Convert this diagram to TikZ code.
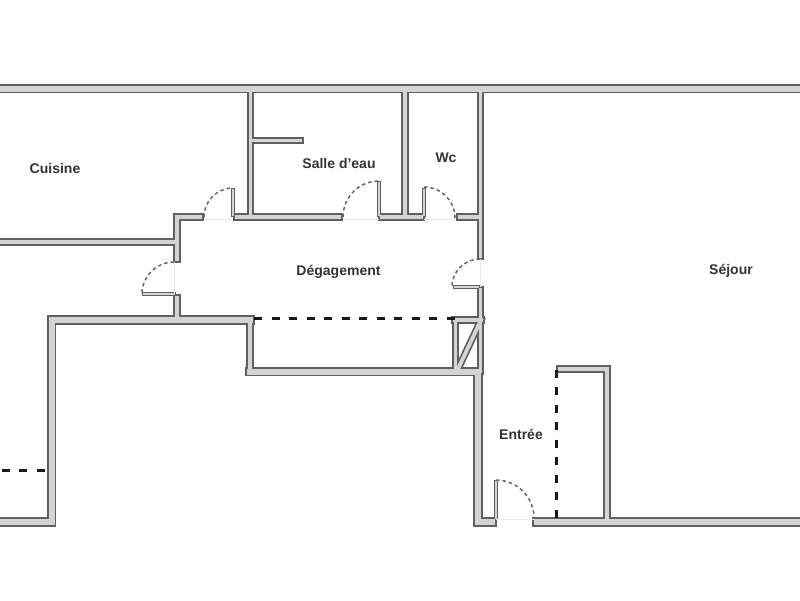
\documentclass[tikz,border=0pt]{standalone}
\usepackage{fontspec}
\setmainfont{Liberation Sans}[Ligatures=ResetAll]
\definecolor{wallline}{HTML}{606060}
\definecolor{wallfill}{HTML}{D4D4D4}
\tikzstyle{room} = [font=\fontsize{14}{16}\selectfont\bfseries, text=black!80, inner sep=0pt]
\tikzstyle{door} = [line width=1.5pt, color=black!60, dash pattern=on 3.5pt off 3pt]
\tikzstyle{sill} = [line width=0.6pt, color=black!8]
\tikzstyle{limit} = [line width=3pt, color=black!90, dash pattern=on 8pt off 9.5pt]
% all the walls, drawn once in dark and once in light
\newcommand{\planwalls}[4]{
      \begin{scope}[color=#4, line cap=rect, miter limit=4]
      %thick outer walls
      \draw[line width=#1] (-6,88.5)--(806,88.5);
      \draw[line width=#1] (-6,522)--(51.5,522)--(51.5,320)--(250,320);
      \draw[line width=#1] (250,371.5)--(478,371.5);
      \draw[line width=#1] (478,371.5)--(478,522)--(492,522);
      \draw[line width=#1] (537,522)--(806,522);
      %inner walls
      \draw[line width=#2] (250.5,88.5)--(250.5,217);
      \draw[line width=#2] (405,88.5)--(405,217);
      \draw[line width=#2] (480.5,88.5)--(480.5,256);
      \draw[line width=#2] (480.5,290)--(480.5,371);
      \draw[line width=#2] (177,259)--(177,217)--(200,217);
      \draw[line width=#2] (237,217)--(339,217);
      \draw[line width=#2] (382,217)--(421,217);
      \draw[line width=#2] (460,217)--(480,217);
      \draw[line width=#2] (177,298)--(177,320);
      \draw[line width=#2] (250,320)--(250,371);
      \draw[line width=#2] (-6,242)--(175,242);
      \draw[line width=#2] (560,369)--(607,369)--(607,522);
      \draw[line width=#2] (455.5,320)--(455.5,371);
      \draw[line width=#2] (455,320)--(481,320);
      \draw[line width=#2] (458,369)--(481,320);
      \draw[line width=#2] (254,140.5)--(300,140.5);
      %door leaves
      \draw[line width=#3] (233,190)--(233,215);
      \draw[line width=#3] (379,183)--(379,215);
      \draw[line width=#3] (424,190)--(424,215);
      \draw[line width=#3] (496,482)--(496,518);
      \draw[line width=#3] (144,294)--(174,294);
      \draw[line width=#3] (455,287)--(478,287);
      \end{scope}
}
\begin{document}
\begin{tikzpicture}[x=1pt,y=-1pt]
      \useasboundingbox (0,0) rectangle (800,600);
      %%%%%%%%%%%%%%%%%%%%%%%%%%%%%%%%%%%%%%%
      \planwalls{9.6}{7.2}{4}{wallline}
      \planwalls{6}{3.8}{1.2}{wallfill}
      %door sills
      \draw[sill] (204,219)--(233,219);
      \draw[sill] (343,219)--(379,219);
      \draw[sill] (424,219)--(455,219);
      \draw[sill] (174,262)--(174,294);
      \draw[sill] (480,259)--(480,287);
      \draw[sill] (496,519)--(534,519);
      %door swings
      \draw[door] (204,217) arc (180:270:29);
      \draw[door] (343,217) arc (180:270:36);
      \draw[door] (424,187) arc (270:360:31);
      \draw[door] (174,262) arc (270:180:32);
      \draw[door] (480,259) arc (270:180:28);
      \draw[door] (496,480) arc (270:360:38);
      %limits of the rooms
      \draw[limit] (254,318.5)--(455,318.5);
      \draw[limit] (556.5,369.5)--(556.5,518);
      \draw[limit] (1.5,470.5)--(47,470.5);
      %rooms
      \node[room] (cuisine) at (55,168.5) {Cuisine};
      \node[room] (salle) at (339,163.5) {Salle d'eau};
      \node[room] (wc) at (446,158) {Wc};
      \node[room] (degagement) at (338.5,272) {Dégagement};
      \node[room] (sejour) at (731,271) {Séjour};
      \node[room] (entree) at (521,434.5) {Entrée};
\end{tikzpicture}
\end{document}
